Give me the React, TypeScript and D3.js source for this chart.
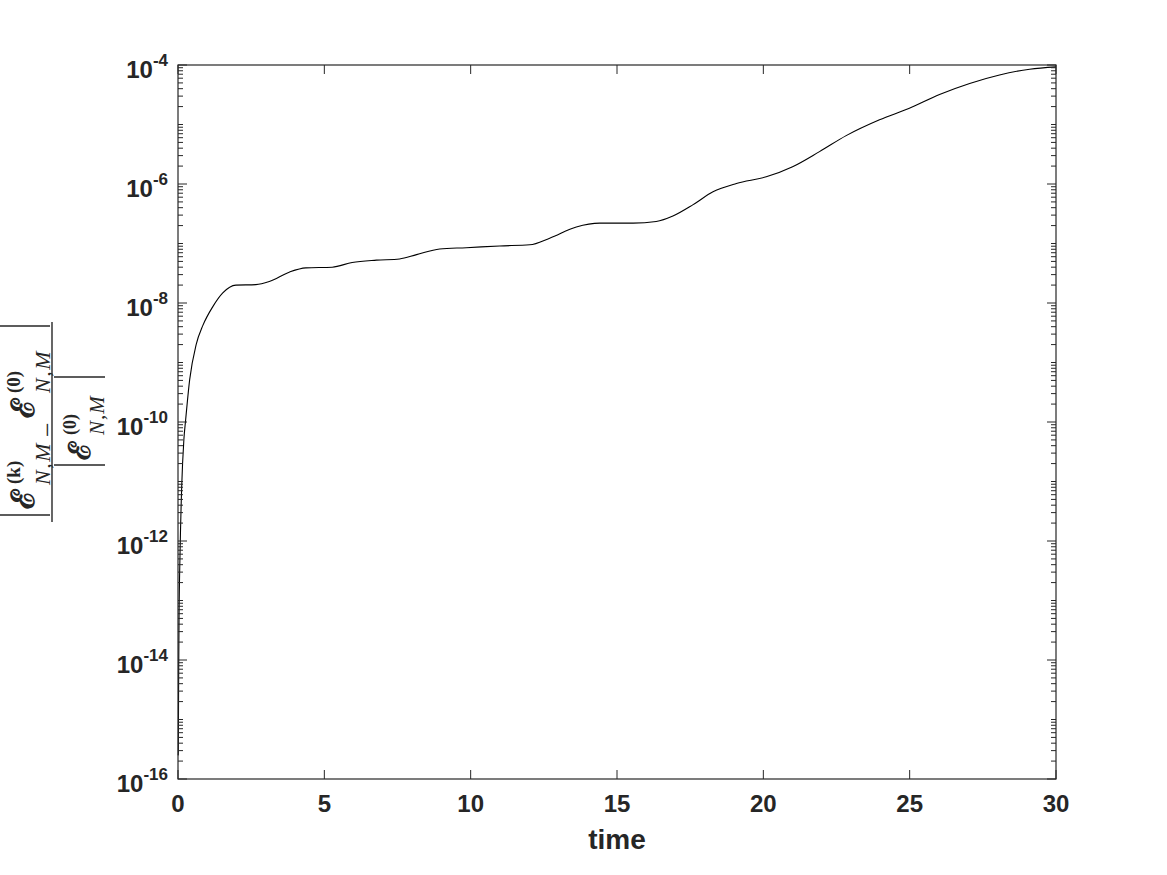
import React, { useEffect, useRef } from 'react';
import * as d3 from 'd3';

// time samples
const timeVals = [
  0.005, 0.01, 0.02, 0.035, 0.07, 0.126, 0.2, 0.26, 0.4, 0.62, 0.85, 1.19, 1.53, 1.98,
  2.66, 3.12, 3.8, 4.37, 5.27, 5.95, 6.78, 7.57, 8.15, 8.94, 9.85, 10.99, 12.02, 12.7,
  13.61, 14.41, 15.55, 16.34, 16.91, 17.6, 18.28, 19.08, 20.1, 21.0, 21.92, 22.83,
  23.97, 24.97, 26.02, 27.05, 28.07, 29.1, 30,
];
// relative energy error at those times
const errVals = [
  2.5e-16, 2.8e-16, 3.5e-15, 4.7e-14, 6.3e-13, 8.1e-12, 5.0e-11, 1.07e-10, 5.2e-10, 2.0e-9,
  4.2e-9, 8.7e-9, 1.48e-8, 2.0e-8, 2.04e-8, 2.3e-8, 3.3e-8, 3.9e-8, 4.0e-8, 4.8e-8,
  5.25e-8, 5.5e-8, 6.5e-8, 8.1e-8, 8.5e-8, 9.1e-8, 9.5e-8, 1.23e-7, 1.9e-7, 2.2e-7,
  2.2e-7, 2.35e-7, 2.9e-7, 4.5e-7, 7.4e-7, 1.02e-6, 1.32e-6, 1.95e-6, 3.5e-6, 6.5e-6,
  1.2e-5, 1.86e-5, 3.2e-5, 4.9e-5, 6.8e-5, 8.5e-5, 9.3e-5,
];

const xTicks = [0, 5, 10, 15, 20, 25, 30];
const yExponents = [-16, -14, -12, -10, -8, -6, -4];

const W = 1167, H = 875;
const margin = { left: 178, right: 1056, top: 65, bottom: 779 };
const ink = '#262626';
const sans = "'Liberation Sans', Arial, Helvetica, sans-serif";
const serif = "'Liberation Serif', 'DejaVu Serif', serif";

function App() {
  const ref = useRef<SVGSVGElement>(null);

  useEffect(() => {
    if (!ref.current) return;
    const svg = d3.select(ref.current);
    svg.selectAll('*').remove();

    const x = d3.scaleLinear().domain([0, 30]).range([margin.left, margin.right]);
    const y = d3.scaleLog().domain([1e-16, 1e-4]).range([margin.bottom, margin.top]);

    svg.append('rect').attr('width', W).attr('height', H).attr('fill', 'white');

    // curve
    const pts = timeVals.map((t, i) => [t, errVals[i]] as [number, number]);
    const line = d3.line<[number, number]>()
      .x(d => x(d[0]))
      .y(d => y(d[1]))
      .curve(d3.curveMonotoneX);
    svg.append('path')
      .datum(pts)
      .attr('d', line)
      .attr('fill', 'none')
      .attr('stroke', 'black')
      .attr('stroke-width', 1.1);

    // box
    svg.append('rect')
      .attr('x', margin.left).attr('y', margin.top)
      .attr('width', margin.right - margin.left)
      .attr('height', margin.bottom - margin.top)
      .attr('fill', 'none').attr('stroke', ink).attr('stroke-width', 1.2);

    const ticks = svg.append('g').attr('stroke', ink).attr('stroke-width', 1);

    // x ticks, bottom and top, pointing inward
    xTicks.forEach(t => {
      ticks.append('line').attr('x1', x(t)).attr('x2', x(t))
        .attr('y1', margin.bottom).attr('y2', margin.bottom - 9);
      ticks.append('line').attr('x1', x(t)).attr('x2', x(t))
        .attr('y1', margin.top).attr('y2', margin.top + 9);
    });

    // y ticks: minor at every k*10^e, major at labelled decades
    for (let e = -16; e < -4; e++) {
      for (let k = 1; k <= 9; k++) {
        const v = k * Math.pow(10, e);
        const major = k === 1 && e % 2 === 0;
        const len = major ? 9 : 5;
        const yy = y(v);
        ticks.append('line').attr('x1', margin.left).attr('x2', margin.left + len)
          .attr('y1', yy).attr('y2', yy);
        ticks.append('line').attr('x1', margin.right).attr('x2', margin.right - len)
          .attr('y1', yy).attr('y2', yy);
      }
    }
    ticks.append('line').attr('x1', margin.left).attr('x2', margin.left + 9)
      .attr('y1', y(1e-4)).attr('y2', y(1e-4));
    ticks.append('line').attr('x1', margin.right).attr('x2', margin.right - 9)
      .attr('y1', y(1e-4)).attr('y2', y(1e-4));

    // x tick labels
    svg.append('g').selectAll('text').data(xTicks).join('text')
      .attr('x', d => x(d)).attr('y', margin.bottom + 33)
      .attr('text-anchor', 'middle')
      .attr('font-family', sans).attr('font-weight', 'bold').attr('font-size', 24)
      .attr('fill', ink)
      .text(d => String(d));

    // y tick labels 10^e
    const yl = svg.append('g').selectAll('text').data(yExponents).join('text')
      .attr('x', 168).attr('y', d => y(Math.pow(10, d)) + 13)
      .attr('text-anchor', 'end')
      .attr('font-family', sans).attr('font-weight', 'bold').attr('font-size', 24)
      .attr('fill', ink);
    yl.append('tspan').text('10');
    yl.append('tspan').attr('dy', -12).attr('font-size', 17).text(d => String(d));

    // x label
    svg.append('text')
      .attr('x', (margin.left + margin.right) / 2).attr('y', 849)
      .attr('text-anchor', 'middle')
      .attr('font-family', sans).attr('font-weight', 'bold').attr('font-size', 28)
      .attr('fill', ink)
      .text('time');

    // y label: |E(k) - E(0)| / |E(0)|, rotated
    const g = svg.append('g')
      .attr('transform', `translate(52,${(margin.top + margin.bottom) / 2}) rotate(-90)`)
      .attr('fill', ink);
    const lab = g.append('g').attr('stroke', ink).attr('stroke-width', 1.4);
    lab.append('line').attr('x1', -100).attr('x2', 100).attr('y1', 0).attr('y2', 0);
    [-93, 96].forEach(p => lab.append('line').attr('x1', p).attr('x2', p).attr('y1', -52).attr('y2', -2));
    [-43, 45].forEach(p => lab.append('line').attr('x1', p).attr('x2', p).attr('y1', 2).attr('y2', 53));

    const script = "'DejaVu Serif', serif";
    const put = (txt: string, px: number, py: number, fs: number, fam: string, italic = false, bold = false, ls = 0) =>
      g.append('text').attr('x', px).attr('y', py)
        .attr('font-family', fam).attr('font-size', fs)
        .attr('font-style', italic ? 'italic' : 'normal')
        .attr('font-weight', bold ? 'bold' : 'normal')
        .attr('letter-spacing', ls)
        .text(txt);

    // numerator
    put('\u2130', -87, -18, 32, script, false, true);
    put('(k)', -62, -32, 19, serif, false, true);
    put('N,M', -63, -2, 22, serif, true, false, 1.5);
    put('\u2212', -15, 4, 26, serif);
    put('\u2130', 4, -18, 32, script, false, true);
    put('(0)', 29, -32, 19, serif, false, true);
    put('N,M', 29, -2, 22, serif, true, false, 1.5);

    // denominator
    put('\u2130', -38, 38, 30, script, false, true);
    put('(0)', -13, 24, 18, serif, false, true);
    put('N,M', -13, 52, 21, serif, true, false, 1);
  }, []);

  return (
    <div style={{ position: 'absolute', left: 0, top: 0 }}>
      <svg ref={ref} width={W} height={H}></svg>
    </div>
  );
}

export default App;
